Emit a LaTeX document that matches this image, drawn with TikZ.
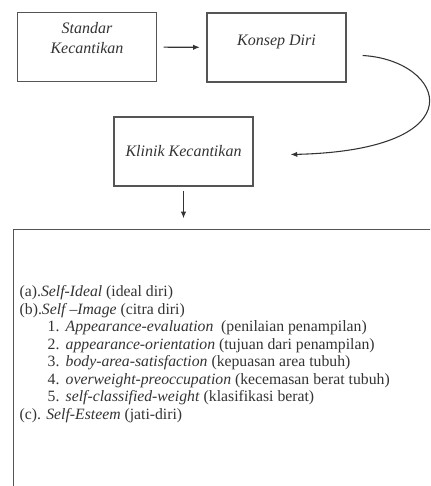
\documentclass[tikz,border=0pt]{standalone}
\usepackage{fontspec}
\setmainfont{Liberation Serif}
\usepackage{tikz}
\usetikzlibrary{arrows.meta, positioning, calc}
\definecolor{boxline}{HTML}{555555}
\definecolor{inkgray}{HTML}{333333}

\tikzset{
  konsepbox/.style={draw=boxline, line width=1.1pt, minimum width=104pt, minimum height=52pt, align=center, font=\fontsize{12}{15}\selectfont\itshape, text=inkgray},
  flowarrow/.style={-{Latex[length=5pt,width=4pt]}, line width=0.8pt, draw=inkgray},
}
\newcommand{\butir}[1]{\hspace*{21pt}\makebox[13.5pt][l]{#1}}

\begin{document}
\begin{tikzpicture}[x=0.75pt, y=-0.75pt]
  \useasboundingbox (0,0) rectangle (430,486);
  \clip (0,0) rectangle (430,486);
  % top row
  \node[konsepbox, text depth=13pt] (standar) at (87,47) {Standar\\Kecantikan};
  \node[konsepbox, text depth=11pt] (konsep) at (276.5,47.5) {Konsep Diri};
  \node[konsepbox] (klinik) at (183.5,151.5) {Klinik Kecantikan};
  % dimension box, runs past the page edge
  \node[draw=boxline, line width=1.1pt, minimum width=380pt, minimum height=230pt, anchor=north west] (dimensi) at (13,229) {};
  \node[anchor=north west, align=left, text=inkgray, font=\fontsize{11.8}{13.1}\selectfont] (daftar) at (15,281) {%
    (a).\textit{Self-Ideal} (ideal diri)\\
    (b).\textit{Self –Image} (citra diri)\\
    \butir{1.}\textit{Appearance-evaluation}\ \ (penilaian penampilan)\\
    \butir{2.}\textit{appearance-orientation} (tujuan dari penampilan)\\
    \butir{3.}\textit{body-area-satisfaction} (kepuasan area tubuh)\\
    \butir{4.}\textit{overweight-preoccupation} (kecemasan berat tubuh)\\
    \butir{5.}\textit{self-classified-weight} (klasifikasi berat)\\
    (c). \textit{Self-Esteem} (jati-diri)};
  % connectors
  \draw[flowarrow, shorten <=5pt, shorten >=5pt] (standar) -- (konsep);
  \draw[flowarrow] ($(konsep.east)+(16,8)$) .. controls (445,60) and (480,150) .. ($(klinik.east)+(37,3)$);
  \draw[flowarrow, shorten <=3pt, shorten >=8pt] (klinik.south) -- (klinik.south |- dimensi.north);
\end{tikzpicture}
\end{document}
